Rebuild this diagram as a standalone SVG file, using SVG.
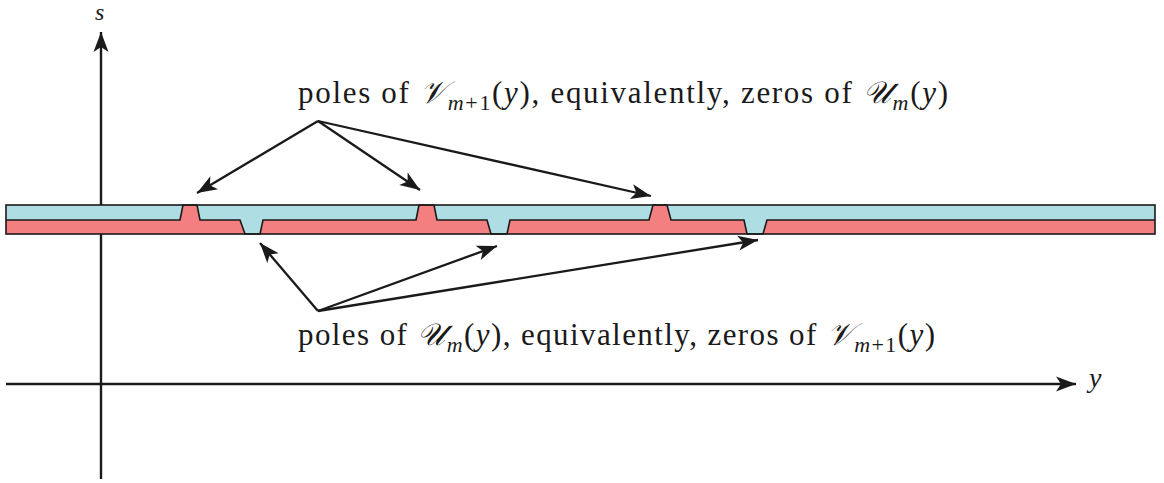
<svg xmlns="http://www.w3.org/2000/svg" width="1164" height="483" viewBox="0 0 1164 483">
<style>
.lbl{font-family:"Liberation Serif","DejaVu Serif",serif;font-size:31px;fill:#1a1a1a}
.it{font-style:italic}
.sub{font-size:22px}
.conn{stroke:#1a1a1a;stroke-width:2.3;fill:none}
.axis{stroke:#1a1a1a;stroke-width:2.4;fill:none}
.edge{stroke:#1a1a1a;stroke-width:1.6;stroke-linejoin:miter}
</style>
<defs>
<marker id="ah" markerUnits="userSpaceOnUse" markerWidth="26" markerHeight="18" viewBox="-22 -9 24 18" refX="0" refY="0" orient="auto">
<path d="M0,0 L-20,-7.5 L-15,0 L-20,7.5 Z" fill="#1a1a1a"/>
</marker>
</defs>
<g id="axes">
<line class="axis" x1="101" y1="479" x2="101" y2="32" marker-end="url(#ah)"/>
<line class="axis" x1="6" y1="384" x2="1076" y2="384" marker-end="url(#ah)"/>
<text class="lbl it" x="95" y="20" style="font-size:24px">s</text>
<text class="lbl it" x="1089" y="387" style="font-size:28px">y</text>
</g>
<g id="band">
<rect x="6" y="205" width="1149" height="29" fill="#aedee3"/>
<path d="M6,220 L180,220 L183,205 L197,205 L200,220 L240,220 L245,234 L260,234 L263,220 L416,220 L419,205 L434,205 L437,220 L487,220 L491,234 L507,234 L510,220 L649,220 L653,205 L667,205 L671,220 L744,220 L747,234 L763,234 L767,220 L1155,220 L1155,234 L6,234 Z" fill="#f37f80"/>
<path class="edge" fill="none" d="M6,220 L180,220 L183,205 L197,205 L200,220 L240,220 L245,234 L260,234 L263,220 L416,220 L419,205 L434,205 L437,220 L487,220 L491,234 L507,234 L510,220 L649,220 L653,205 L667,205 L671,220 L744,220 L747,234 L763,234 L767,220 L1155,220"/>
<rect class="edge" x="6" y="205" width="1149" height="29" fill="none"/>
</g>
<g id="label-top">
<text class="lbl" x="298" y="103" textLength="650" lengthAdjust="spacing">poles of <tspan class="it">𝒱</tspan><tspan class="it sub" dy="7">m</tspan><tspan class="sub">+1</tspan><tspan dy="-7">(</tspan><tspan class="it">y</tspan>), equivalently, zeros of <tspan class="it">𝒰</tspan><tspan class="it sub" dy="7">m</tspan><tspan dy="-7">(</tspan><tspan class="it">y</tspan>)</text>
</g>
<g id="label-bottom">
<text class="lbl" x="298" y="345" textLength="637" lengthAdjust="spacing">poles of <tspan class="it">𝒰</tspan><tspan class="it sub" dy="7">m</tspan><tspan dy="-7">(</tspan><tspan class="it">y</tspan>), equivalently, zeros of <tspan class="it">𝒱</tspan><tspan class="it sub" dy="7">m</tspan><tspan class="sub">+1</tspan><tspan dy="-7">(</tspan><tspan class="it">y</tspan>)</text>
</g>
<g id="connectors">
<line class="conn" x1="318" y1="121" x2="197" y2="193" marker-end="url(#ah)"/>
<line class="conn" x1="318" y1="121" x2="420" y2="190" marker-end="url(#ah)"/>
<line class="conn" x1="318" y1="121" x2="651" y2="196" marker-end="url(#ah)"/>
<line class="conn" x1="318" y1="311" x2="260" y2="243" marker-end="url(#ah)"/>
<line class="conn" x1="318" y1="311" x2="497" y2="246" marker-end="url(#ah)"/>
<line class="conn" x1="318" y1="311" x2="758" y2="240" marker-end="url(#ah)"/>
</g>
</svg>
